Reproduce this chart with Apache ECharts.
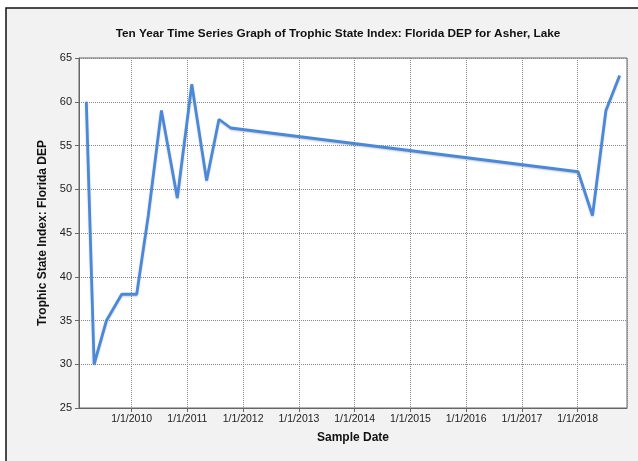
<!DOCTYPE html>
<html><head><meta charset="utf-8">
<script src="https://cdn.jsdelivr.net/npm/echarts@6/dist/echarts.min.js"></script>
<style>html,body{margin:0;padding:0;background:#fff}#c{width:638px;height:461px}</style>
</head><body><div id="c"></div>
<script>
const titleText = 'Ten Year Time Series Graph of Trophic State Index: Florida DEP for Asher, Lake';
const yAxisName = 'Trophic State Index: Florida DEP';
const xAxisName = 'Sample Date';
const sampleDates = ['2009-03-10','2009-04-30','2009-07-20','2009-10-28','2010-02-03','2010-04-20','2010-07-15','2010-10-27','2011-01-30','2011-05-07','2011-07-27','2011-10-12','2018-01-04','2018-04-08','2018-07-05','2018-10-03'];
const tsiValues = [60,30,35,38,38,47,59,49,62,51,58,57,52,47,59,63];
const xMin = '2009-01-21';
const xMax = '2018-11-20';
const yMin = 25, yMax = 65, yStep = 5;

const chart = echarts.init(document.getElementById('c'), null, {renderer: 'canvas'});
const font = 'Liberation Sans, Arial, sans-serif';
chart.setOption({
  backgroundColor: '#fff',
  animation: false,
  textStyle: {fontFamily: font},
  graphic: [{
    type: 'rect', z: -10, silent: true,
    shape: {x: 6, y: 8, width: 800, height: 600},
    style: {fill: '#f2f2f2', stroke: '#111', lineWidth: 1.5}
  }],
  title: {
    text: titleText, left: 333, top: 23, textAlign: 'center',
    textStyle: {fontFamily: font, fontSize: 11.8, fontWeight: 'bold', color: '#111'}
  },
  grid: {left: 79, top: 58, width: 548, height: 350, show: true, backgroundColor: '#fff', borderColor: '#666', borderWidth: 1},
  xAxis: {
    type: 'time', min: xMin, max: xMax,
    splitNumber: 10, minInterval: 365*86400000, maxInterval: 366*86400000,
    name: xAxisName, nameLocation: 'middle', nameGap: 24,
    nameTextStyle: {fontFamily: font, fontSize: 12, fontWeight: 'bold', color: '#111'},
    axisLine: {lineStyle: {color: '#666'}},
    axisTick: {show: true, length: 4, lineStyle: {color: '#666'}},
    axisLabel: {fontFamily: font, fontSize: 10.5, color: '#222', margin: 6,
      formatter: function (v) { const d = new Date(v); return (d.getMonth()+1) + '/' + d.getDate() + '/' + d.getFullYear(); }},
    splitLine: {show: true, lineStyle: {color: '#888', type: [1, 1], width: 1}}
  },
  yAxis: {
    type: 'value', min: yMin, max: yMax, interval: yStep,
    name: yAxisName, nameLocation: 'middle', nameGap: 30, nameRotate: 90,
    nameTextStyle: {fontFamily: font, fontSize: 12, fontWeight: 'bold', color: '#111'},
    axisLine: {show: true, lineStyle: {color: '#666'}},
    axisTick: {show: true, length: 4, lineStyle: {color: '#666'}},
    axisLabel: {fontFamily: font, fontSize: 11, color: '#222', margin: 7},
    splitLine: {show: true, lineStyle: {color: '#888', type: [1, 1], width: 1}}
  },
  series: [{
    type: 'line', data: sampleDates.map((d, i) => [d, tsiValues[i]]),
    showSymbol: false, symbol: 'none',
    lineStyle: {color: '#4a88da', width: 2.8, shadowColor: 'rgba(0,0,0,0.2)', shadowBlur: 2, shadowOffsetY: 1},
    itemStyle: {color: '#4a88da'}
  }]
});
</script></body></html>
